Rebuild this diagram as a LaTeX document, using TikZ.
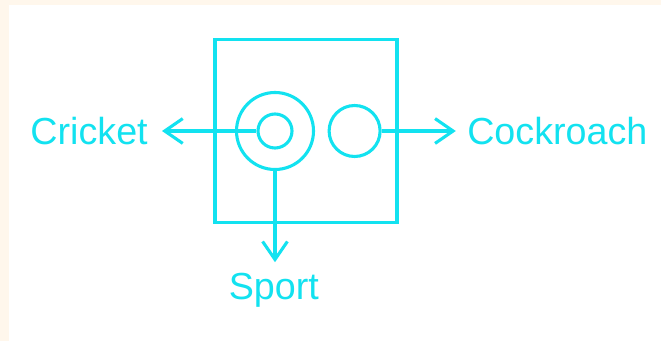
\documentclass[tikz,border=0pt]{standalone}
\usepackage{fontspec}
\setmainfont{Liberation Sans}
\usepackage{tikz}
\usetikzlibrary{positioning,arrows.meta}
\usepackage{xcolor}
\definecolor{cyanLine}{HTML}{12E2F0}
\definecolor{creamBg}{HTML}{FFF7EC}

\begin{document}
\begin{tikzpicture}[
    ringNode/.style={circle, draw=cyanLine, line width=2.2pt, inner sep=0pt},
    labelNode/.style={text=cyanLine, inner sep=0pt, font=\fontsize{26.8}{32}\selectfont},
    arrowPart/.style={draw=cyanLine, line width=2.2pt, -{Straight Barb[length=0.45cm, width=0.62cm, line width=2.2pt]}}
]
    % background and margins
    \fill[creamBg] (-6.875, 3.275) rectangle (9.65, -5.25);
    \fill[white] (-6.65, 3.15) rectangle (9.65, -5.25);
    \useasboundingbox (-6.875, 3.275) rectangle (9.65, -5.25);

    \node[rectangle, draw=cyanLine, line width=2.2pt, minimum width=4.55cm, minimum height=4.59cm, inner sep=0pt] (box) at (0.775, 0) {};

    \node[ringNode, minimum size=1.925cm] (outer) at (0, 0) {};
    \node[ringNode, minimum size=0.85cm] (inner) at (0, 0) {};
    \node[ringNode, minimum size=1.275cm] (single) at (1.99, 0) {};

    \node[labelNode, anchor=east] (cricket) at (-3.175, 0) {Cricket};
    \node[labelNode, anchor=west] (cockroach) at (4.8, 0) {Cockroach};
    \node[labelNode, anchor=base] (sport) at (-0.03, -4.225) {Sport};

    \draw[arrowPart, shorten >=0.35cm] (inner.west) -- (cricket.east);
    \draw[arrowPart, shorten >=0.28cm] (single.east) -- (cockroach.west);
    \draw[arrowPart, shorten >=0.28cm] (outer.south) -- (outer.south |- sport.north);
\end{tikzpicture}
\end{document}
